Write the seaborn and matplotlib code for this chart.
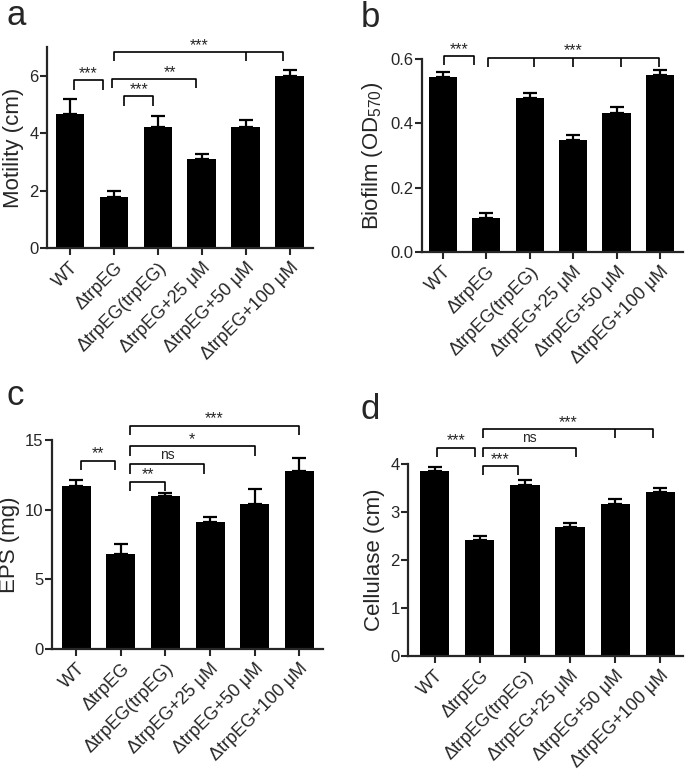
import matplotlib
matplotlib.use('Agg')
import matplotlib.pyplot as plt
import seaborn as sns
import numpy as np
import pandas as pd

sns.set_style('ticks')
plt.rcParams['font.family'] = ['Liberation Sans', 'DejaVu Sans']

strains = ['WT', 'ΔtrpEG', 'ΔtrpEG(trpEG)', 'ΔtrpEG+25 μM', 'ΔtrpEG+50 μM', 'ΔtrpEG+100 μM']

# panel a - motility
motility = [4.67, 1.78, 4.23, 3.11, 4.20, 5.98]
motility_err = [0.53, 0.20, 0.37, 0.18, 0.26, 0.21]
# panel b - biofilm
biofilm = [0.543, 0.105, 0.480, 0.348, 0.433, 0.549]
biofilm_err = [0.017, 0.015, 0.015, 0.017, 0.017, 0.017]
# panel c - EPS
eps = [11.7, 6.81, 10.99, 9.15, 10.42, 12.8]
eps_err = [0.43, 0.74, 0.20, 0.33, 1.08, 0.89]
# panel d - cellulase
cellulase = [3.86, 2.42, 3.57, 2.68, 3.17, 3.42]
cellulase_err = [0.08, 0.07, 0.09, 0.10, 0.11, 0.07]

# significance brackets: (x1, x2, y, label, extra ticks, text x)
sig_a = [(0.09, 0.76, 5.84, '***', [], None),
         (1.24, 1.90, 5.28, '***', [], None),
         (0.95, 2.88, 5.89, '**', [], 2.28),
         (1.01, 4.85, 6.83, '***', [4.0], None)]
sig_b = [(0.03, 0.71, 0.609, '***', [], None),
         (1.03, 4.97, 0.604, '***', [2.1, 3.0, 4.1], None)]
sig_c = [(0.10, 0.86, 13.52, '**', [], None),
         (1.20, 2.00, 12.02, '**', [], None),
         (1.20, 2.87, 13.26, 'ns', [], None),
         (1.20, 4.00, 14.57, '*', [], None),
         (1.20, 5.00, 16.03, '***', [], None)]
sig_d = [(0.06, 0.89, 4.34, '***', [], None),
         (1.07, 1.84, 3.95, '***', [], None),
         (1.07, 3.13, 4.34, 'ns', [], None),
         (1.07, 4.83, 4.72, '***', [4.0], None)]

W, H = 685, 772
fig = plt.figure(figsize=(W / 100, H / 100), dpi=100)


def px_axes(l, t, r, b):
    return fig.add_axes([l / W, 1 - b / H, (r - l) / W, (b - t) / H])


def draw_bracket(ax, x1, x2, y, label, mids, tx, leg):
    kw = dict(color='black', lw=1.2, clip_on=False, solid_capstyle='butt')
    ax.plot([x1, x1, x2, x2], [y - leg, y, y, y - leg], **kw)
    for m in mids:
        ax.plot([m, m], [y, y - leg], **kw)
    if tx is None:
        tx = (x1 + x2) / 2
    off = leg * 0.25 if label == 'ns' else -leg * 0.1
    ax.text(tx, y + off, label, ha='center', va='bottom', fontsize=10 if label == 'ns' else 11.5,
            clip_on=False)


def panel(ax, vals, errs, sig, ylim, yticks, ylabel, xlim, fmt=None):
    df = pd.DataFrame({'strain': strains, 'value': vals})
    sns.barplot(data=df, x='strain', y='value', color='black', width=0.65,
                errorbar=None, ax=ax, saturation=1)
    for p in ax.patches:
        p.set_edgecolor('none')
        p.set_clip_on(False)
    ax.errorbar(np.arange(len(vals)), vals, yerr=[np.zeros(len(vals)), errs],
                fmt='none', ecolor='black', elinewidth=1.6, capsize=5, capthick=1.6,
                clip_on=False)
    ax.set_ylim(*ylim)
    ax.set_xlim(*xlim)
    ax.set_yticks(yticks)
    if fmt:
        ax.set_yticklabels([fmt.format(v) for v in yticks])
    ax.set_xticks(range(len(strains)))
    ax.set_xticklabels(strains, rotation=45, ha='right', rotation_mode='anchor', fontsize=13)
    ax.set_xlabel('')
    ax.set_ylabel(ylabel, fontsize=16, labelpad=4)
    ax.tick_params(axis='y', labelsize=12, length=5, width=1.5, pad=1)
    ax.tick_params(axis='x', length=5, width=1.5, pad=3)
    for s in ['left', 'bottom']:
        ax.spines[s].set_linewidth(1.6)
    sns.despine(ax=ax)
    leg = 0.047 * ylim[1]
    for x1, x2, y, label, mids, tx in sig:
        draw_bracket(ax, x1, x2, y, label, mids, tx, leg)


ax_a = px_axes(47, 47, 313, 248)
panel(ax_a, motility, motility_err, sig_a, (0, 7), [0, 2, 4, 6], 'Motility (cm)', (-0.52, 5.53))

ax_b = px_axes(422, 59, 683, 252)
panel(ax_b, biofilm, biofilm_err, sig_b, (0, 0.6), [0, 0.2, 0.4, 0.6],
      'Biofilm (OD$\\mathregular{_{570}}$)', (-0.48, 5.53), fmt='{:.1f}')

ax_c = px_axes(52, 440, 323, 649)
panel(ax_c, eps, eps_err, sig_c, (0, 15), [0, 5, 10, 15], 'EPS (mg)', (-0.54, 5.53))

ax_d = px_axes(408, 464, 683, 656)
panel(ax_d, cellulase, cellulase_err, sig_d, (0, 4), [0, 1, 2, 3, 4], 'Cellulase (cm)', (-0.59, 5.5))

for letter, x, y in [('a', 7, 25), ('b', 361, 27), ('c', 7, 405), ('d', 361, 419)]:
    fig.text(x / W, 1 - y / H, letter, fontsize=25, va='baseline', ha='left')

fig.savefig('out.png', dpi=100)
